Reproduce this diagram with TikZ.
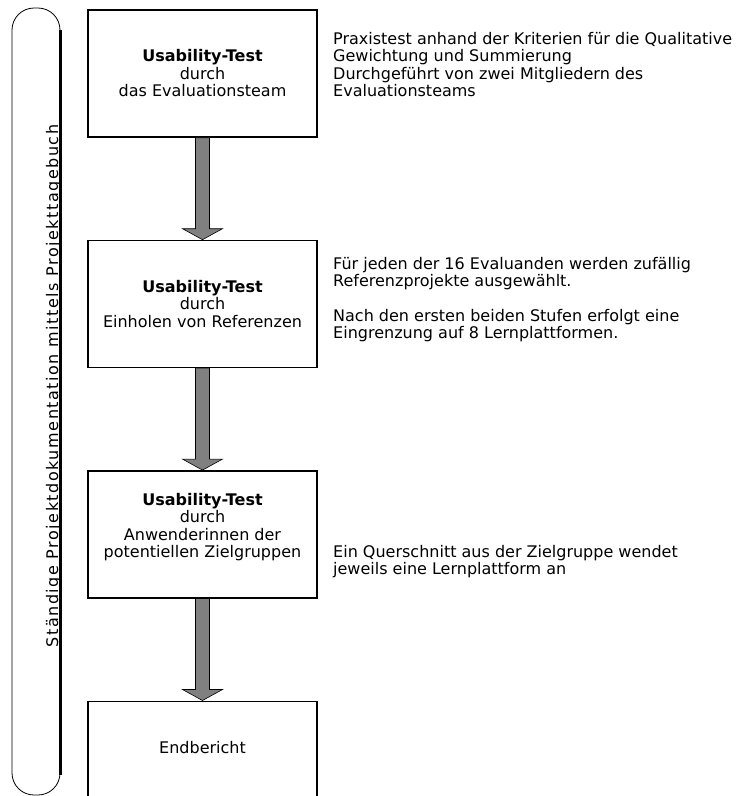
\documentclass[tikz,border=0pt]{standalone}
\usepackage{fontspec}
\setmainfont{DejaVu Sans}
\usetikzlibrary{positioning,calc}

\tikzset{
  stage/.style={draw, line width=1.4pt, minimum width=229pt, minimum height=127pt, align=center, inner sep=0pt},
  note/.style={anchor=north west, align=left, inner sep=0pt},
}
% dicker grauer Pfeil zwischen zwei Stufen
\newcommand{\stagearrow}[2]{%
  \draw[fill=gray, line width=0.6pt] let \p1=(#1.south), \p2=(#2.north) in
    ({\x1-7pt},\y1) -- ({\x1+7pt},\y1) -- ({\x1+7pt},{\y2+11pt}) -- ({\x1+20pt},{\y2+11pt})
    -- (\x1,\y2) -- ({\x1-20pt},{\y2+11pt}) -- ({\x1-7pt},{\y2+11pt}) -- cycle;}

\begin{document}
\begin{tikzpicture}[x=1pt, y=1pt, node distance=102pt, font=\fontsize{16}{17.5}\selectfont]
\useasboundingbox (0,0) rectangle (754,-796);
% Klammer links
\draw[line width=0.8pt, rounded corners=22pt] (12,-8) rectangle (60,-795);
\draw[line width=2.2pt] (60.5,-30) -- (60.5,-775);
\node[rotate=90, anchor=base] (doku) at (58,-386) {\addfontfeature{LetterSpace=9.5}Ständige Projektdokumentation mittels Projekttagebuch};

% Stufen
\node[stage] (test1) at (202.5,-73.5) {\textbf{Usability-Test}\\durch\\das Evaluationsteam};
\node[stage, below=of test1] (test2) {\textbf{Usability-Test}\\durch\\Einholen von Referenzen};
\node[stage, below=of test2] (test3) {\textbf{Usability-Test}\\durch\\Anwenderinnen der\\potentiellen Zielgruppen\\~};
\node[stage, below=of test3, minimum height=110pt] (bericht) {Endbericht\\~};

\stagearrow{test1}{test2}
\stagearrow{test2}{test3}
\stagearrow{test3}{bericht}

% Erlaeuterungen
\node[note] (note1) at (333,-32) {Praxistest anhand der Kriterien für die Qualitative\\Gewichtung und Summierung\\Durchgeführt von zwei Mitgliedern des\\Evaluationsteams};
\node[note] (note2) at (333,-257) {Für jeden der 16 Evaluanden werden zufällig\\Referenzprojekte ausgewählt.\\[17pt]Nach den ersten beiden Stufen erfolgt eine\\Eingrenzung auf 8 Lernplattformen.};
\node[note] (note3) at (333,-545) {Ein Querschnitt aus der Zielgruppe wendet\\jeweils eine Lernplattform an};
\end{tikzpicture}
\end{document}
